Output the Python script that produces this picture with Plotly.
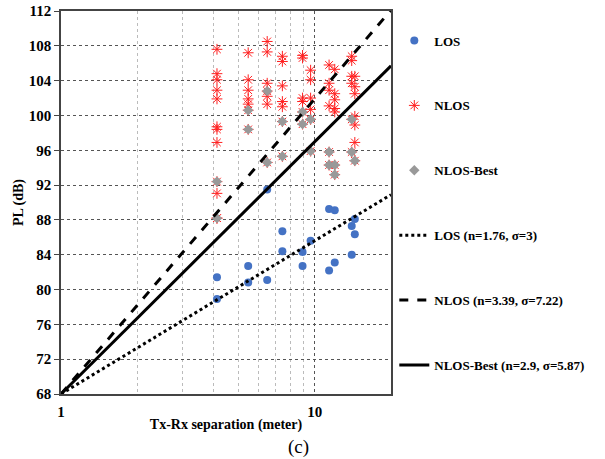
import plotly.graph_objects as go

# LOS measurements
los_d = [6.5, 11.4, 12.0, 14.4, 14.0, 14.4, 7.46, 9.64, 7.46, 8.96, 14.0, 12.0, 11.4, 8.96, 5.47, 4.12, 6.5, 5.47, 4.12]
los_pl = [91.5, 89.25, 89.1, 88.1, 87.3, 86.35, 86.7, 85.6, 84.4, 84.3, 84.0, 83.1, 82.2, 82.7, 82.7, 81.4, 81.1, 80.8, 78.9]

# NLOS measurements
nlos_d = ([4.12] * 12 + [5.47] * 7 + [6.5] * 7 + [7.46] * 7 + [8.96] * 6 + [9.64] * 6
          + [11.4] * 6 + [12.0] * 7 + [14.0] * 6 + [14.4] * 7)
nlos_pl = [107.6, 104.8, 104.1, 102.9, 101.9, 98.7, 98.4, 96.9, 92.4, 91.05, 88.2, 88.2,
           107.2, 104.1, 102.9, 101.9, 101.3, 100.6, 98.4,
           108.5, 107.3, 103.7, 102.8, 102.2, 101.3, 94.6,
           106.8, 106.2, 103.4, 101.6, 101.0, 99.3, 95.3,
           106.9, 106.6, 102.0, 101.6, 100.4, 99.0,
           105.2, 104.1, 102.0, 100.7, 99.55, 95.9,
           105.8, 103.7, 102.9, 101.1, 95.8, 94.3,
           105.3, 102.5, 101.8, 100.8, 100.4, 94.3, 93.2,
           106.8, 106.3, 104.5, 103.7, 99.55, 95.8,
           104.5, 103.3, 102.5, 99.9, 98.9, 96.9, 94.8]

# NLOS-Best measurements
best_d = [4.12, 4.12, 5.47, 5.47, 6.5, 6.5, 7.46, 7.46, 8.96, 8.96, 9.64, 9.64,
          11.4, 11.4, 12.0, 12.0, 14.0, 14.0, 14.4]
best_pl = [92.4, 88.2, 100.6, 98.4, 102.8, 94.6, 99.3, 95.3, 100.4, 99.0, 99.55, 95.9,
           95.8, 94.3, 94.3, 93.2, 99.55, 95.8, 94.8]

# Fitted path-loss lines (endpoints at d=1 and d=20)
fit_d = [1, 20]
los_fit = [68.0, 90.9]
nlos_fit = [68.0, 112.1]
best_fit = [68.0, 105.7]

y_ticks = list(range(68, 113, 4))
x_ticks = [1, 10]
x_minor = [2, 3, 4, 5, 6, 7, 8, 9]

SERIF = "Liberation Serif"

fig = go.Figure()
fig.add_trace(go.Scatter(x=los_d, y=los_pl, mode="markers", name="LOS", legendgroup="a",
                         marker=dict(symbol="circle", size=8, color="#4472C4")))
fig.add_trace(go.Scatter(x=nlos_d, y=nlos_pl, mode="markers", name="NLOS", legendgroup="b",
                         marker=dict(symbol="asterisk-open", size=9, color="#FF2020",
                                     line=dict(width=1, color="#FF2020"))))
fig.add_trace(go.Scatter(x=best_d, y=best_pl, mode="markers", name="NLOS-Best", legendgroup="c",
                         marker=dict(symbol="diamond", size=8, color="#999999")))
fig.add_trace(go.Scatter(x=fit_d, y=los_fit, mode="lines", name="LOS (n=1.76, σ=3)", legendgroup="d",
                         line=dict(color="black", width=3, dash="dot")))
fig.add_trace(go.Scatter(x=fit_d, y=nlos_fit, mode="lines", name="NLOS (n=3.39, σ=7.22)", legendgroup="e",
                         line=dict(color="black", width=3, dash="dash")))
fig.add_trace(go.Scatter(x=fit_d, y=best_fit, mode="lines", name="NLOS-Best (n=2.9, σ=5.87)", legendgroup="f",
                         line=dict(color="black", width=3)))

fig.update_layout(
    width=605, height=459,
    margin=dict(l=61, r=214, t=11, b=65, autoexpand=False),
    paper_bgcolor="white", plot_bgcolor="white",
    font=dict(family=SERIF, size=13, color="black"),
    showlegend=True,
    legend=dict(x=1.01, y=0.962, xanchor="left", yanchor="top",
                font=dict(family=SERIF, size=13, color="black", weight="bold"),
                tracegroupgap=45, bgcolor="rgba(0,0,0,0)"),
    xaxis=dict(type="log", range=[0, 1.301], tickvals=x_ticks, ticktext=[str(v) for v in x_ticks],
               showgrid=True, gridcolor="#555555", griddash="dot", gridwidth=1,
               minor=dict(tickvals=x_minor, showgrid=True, gridcolor="#BBBBBB", griddash="dot", gridwidth=1,
                          ticks=""),
               showline=True, linecolor="#444444", linewidth=1.5, mirror=True,
               ticks="outside", ticklen=3, tickcolor="rgba(0,0,0,0)", zeroline=False,
               tickfont=dict(family=SERIF, size=15, weight="bold"),
               title=dict(text="Tx-Rx separation (meter)", standoff=0,
                          font=dict(family=SERIF, size=14, weight="bold"))),
    yaxis=dict(range=[68, 112], tickvals=y_ticks,
               showgrid=True, gridcolor="#555555", griddash="dot", gridwidth=1,
               showline=True, linecolor="#444444", linewidth=1.5, mirror=True,
               ticks="outside", ticklen=5, tickcolor="#444444", zeroline=False,
               tickfont=dict(family=SERIF, size=15, weight="bold"),
               title=dict(text="PL (dB)", standoff=2,
                          font=dict(family=SERIF, size=14, weight="bold"))),
    annotations=[dict(text="(c)", x=(298 - 61) / 330, y=(394 - 447) / 383, xref="paper", yref="paper",
                      xanchor="center", yanchor="middle", showarrow=False,
                      font=dict(family=SERIF, size=19, color="black"))],
)

fig.write_html("out.html")
